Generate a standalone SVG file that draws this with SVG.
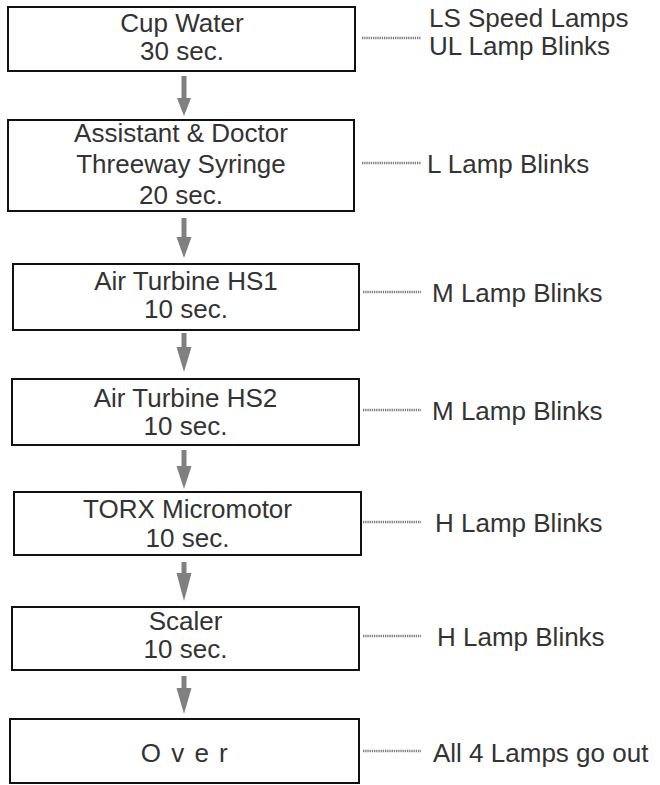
<svg xmlns="http://www.w3.org/2000/svg" width="660" height="785" viewBox="0 0 660 785">
<style>
.box{fill:#fff;stroke:#111;stroke-width:2}
.t{font-family:"Liberation Sans",Arial,sans-serif;font-size:26px;fill:#333}
.c{text-anchor:middle}
.dot{stroke:#7c7c7c;stroke-width:2.5;stroke-dasharray:1.3 0.9;fill:none}
.arr{fill:#808080}
</style>
<rect width="660" height="785" fill="#fff"/>
<g id="connectors">
<path class="dot" d="M362 38H421M362 163H421M363 292H421M363 410H421M363 522H421M363 636H421M363 751H421"/>
<g class="arr">
<path d="M181.5 76H186.5V98H191L184 116L177 98H181.5Z"/>
<path d="M181.5 218H186.5V237H191.5L184 258L176.5 237H181.5Z"/>
<path d="M181.5 333H186.5V347H191.5L184 372L176.5 347H181.5Z"/>
<path d="M181.5 450H186.5V466H191.5L184 489L176.5 466H181.5Z"/>
<path d="M181.5 562H186.5V573H191.5L184 601L176.5 573H181.5Z"/>
<path d="M181.5 676H186.5V688H191.5L184 714L176.5 688H181.5Z"/>
</g>
</g>
<g id="n1">
<rect class="box" x="8" y="7" width="347" height="64"/>
<text class="t c" x="182" y="32">Cup Water</text>
<text class="t c" x="182" y="60">30 sec.</text>
</g>
<g id="l1">
<text class="t" x="429" y="27">LS Speed Lamps</text>
<text class="t" x="429" y="55">UL Lamp Blinks</text>
</g>
<g id="n2">
<rect class="box" x="8" y="120" width="346" height="91"/>
<text class="t c" x="181" y="142">Assistant &amp; Doctor</text>
<text class="t c" x="181" y="173">Threeway Syringe</text>
<text class="t c" x="181" y="204">20 sec.</text>
</g>
<g id="l2"><text class="t" x="427" y="173">L Lamp Blinks</text></g>
<g id="n3">
<rect class="box" x="13" y="264" width="346" height="66"/>
<text class="t c" x="186" y="290">Air Turbine HS1</text>
<text class="t c" x="186" y="318">10 sec.</text>
</g>
<g id="l3"><text class="t" x="432" y="302">M Lamp Blinks</text></g>
<g id="n4">
<rect class="box" x="12" y="379" width="347" height="66"/>
<text class="t c" x="185.5" y="407">Air Turbine HS2</text>
<text class="t c" x="185.5" y="435">10 sec.</text>
</g>
<g id="l4"><text class="t" x="432" y="420">M Lamp Blinks</text></g>
<g id="n5">
<rect class="box" x="14" y="492" width="347" height="63"/>
<text class="t c" x="187.5" y="518">TORX Micromotor</text>
<text class="t c" x="187.5" y="547">10 sec.</text>
</g>
<g id="l5"><text class="t" x="435" y="532">H Lamp Blinks</text></g>
<g id="n6">
<rect class="box" x="12" y="607" width="347" height="63"/>
<text class="t c" x="185.5" y="630">Scaler</text>
<text class="t c" x="185.5" y="658">10 sec.</text>
</g>
<g id="l6"><text class="t" x="437" y="646">H Lamp Blinks</text></g>
<g id="n7">
<rect class="box" x="10" y="719" width="349" height="64"/>
<text class="t c" x="185" y="762" letter-spacing="1.5">O v e r</text>
</g>
<g id="l7"><text class="t" x="433" y="762">All 4 Lamps go out</text></g>
</svg>
